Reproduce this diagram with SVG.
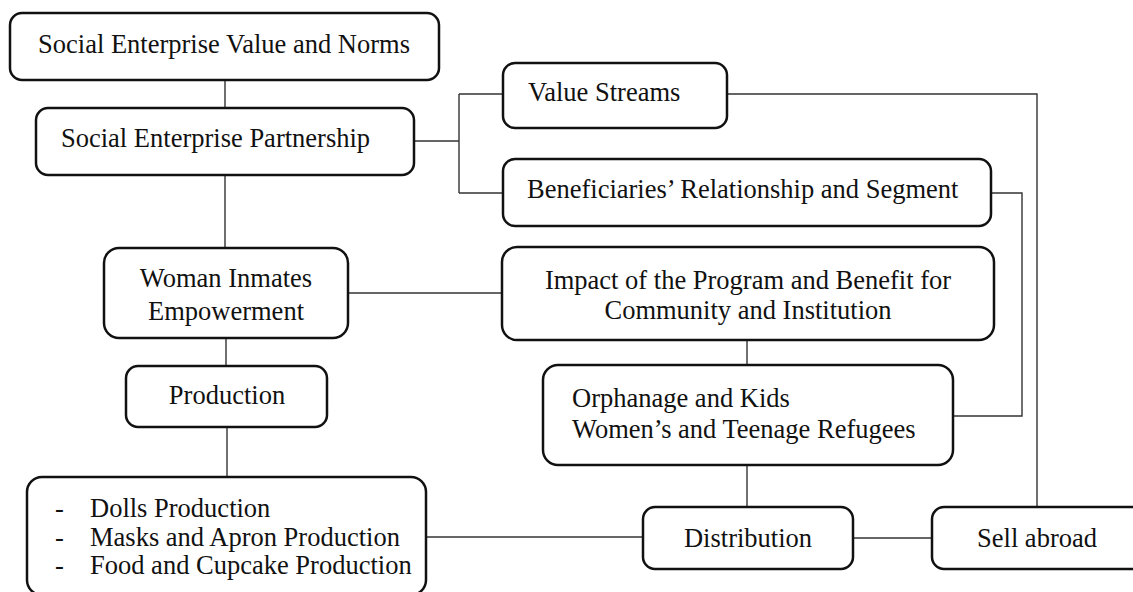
<svg xmlns="http://www.w3.org/2000/svg" width="1133" height="592" viewBox="0 0 1133 592">
  <style>
    .box { fill: #ffffff; stroke: #111111; stroke-width: 2.5; }
    .link { fill: none; stroke: #333333; stroke-width: 1.4; }
    .lbl { font-family: "Liberation Serif", "Times New Roman", serif; font-size: 26.5px; fill: #111111; }
    .mid { text-anchor: middle; }
  </style>
  <rect width="1133" height="592" fill="#ffffff"/>

  <!-- connectors -->
  <g id="connectors">
    <path class="link" d="M225 80 V108"/>
    <path class="link" d="M414 141 H459 M459 94 V193 M459 94 H503 M459 193 H503"/>
    <path class="link" d="M727 94 H1037 V507"/>
    <path class="link" d="M991 193 H1022 V416 H953"/>
    <path class="link" d="M225 175 V248"/>
    <path class="link" d="M348 293 H502"/>
    <path class="link" d="M747 340 V365"/>
    <path class="link" d="M226 338 V366"/>
    <path class="link" d="M227 427 V477"/>
    <path class="link" d="M747 465 V507"/>
    <path class="link" d="M426 537 H643"/>
    <path class="link" d="M853 538 H932"/>
  </g>

  <g id="value-norms">
    <rect class="box" x="10" y="13" width="429" height="67" rx="12"/>
    <text class="lbl mid" x="224" y="53">Social Enterprise Value and Norms</text>
  </g>

  <g id="partnership">
    <rect class="box" x="36" y="108" width="378" height="67" rx="12"/>
    <text class="lbl" x="61" y="147">Social Enterprise Partnership</text>
  </g>

  <g id="value-streams">
    <rect class="box" x="503" y="63" width="224" height="65" rx="12"/>
    <text class="lbl" x="528" y="101">Value Streams</text>
  </g>

  <g id="beneficiaries">
    <rect class="box" x="503" y="159" width="488" height="67" rx="12"/>
    <text class="lbl" x="527" y="198">Beneficiaries’ Relationship and Segment</text>
  </g>

  <g id="empowerment">
    <rect class="box" x="104" y="248" width="244" height="90" rx="15"/>
    <text class="lbl mid" x="226" y="287">Woman Inmates</text>
    <text class="lbl mid" x="226" y="320">Empowerment</text>
  </g>

  <g id="impact">
    <rect class="box" x="502" y="247" width="492" height="93" rx="15"/>
    <text class="lbl mid" x="748" y="289">Impact of the Program and Benefit for</text>
    <text class="lbl mid" x="748" y="319">Community and Institution</text>
  </g>

  <g id="production">
    <rect class="box" x="126" y="366" width="201" height="61" rx="12"/>
    <text class="lbl mid" x="227" y="404">Production</text>
  </g>

  <g id="orphanage">
    <rect class="box" x="543" y="365" width="410" height="100" rx="15"/>
    <text class="lbl" x="572" y="407">Orphanage and Kids</text>
    <text class="lbl" x="572" y="438">Women’s and Teenage Refugees</text>
  </g>

  <g id="product-lines">
    <rect class="box" x="27" y="477" width="399" height="118" rx="15"/>
    <text class="lbl" x="55" y="517">-</text>
    <text class="lbl" x="90" y="517">Dolls Production</text>
    <text class="lbl" x="55" y="546">-</text>
    <text class="lbl" x="90" y="546">Masks and Apron Production</text>
    <text class="lbl" x="55" y="574">-</text>
    <text class="lbl" x="90" y="574">Food and Cupcake Production</text>
  </g>

  <g id="distribution">
    <rect class="box" x="643" y="507" width="210" height="62" rx="12"/>
    <text class="lbl mid" x="748" y="547">Distribution</text>
  </g>

  <g id="sell-abroad">
    <rect class="box" x="932" y="507" width="212" height="62" rx="12"/>
    <text class="lbl mid" x="1037" y="547">Sell abroad</text>
  </g>
</svg>
